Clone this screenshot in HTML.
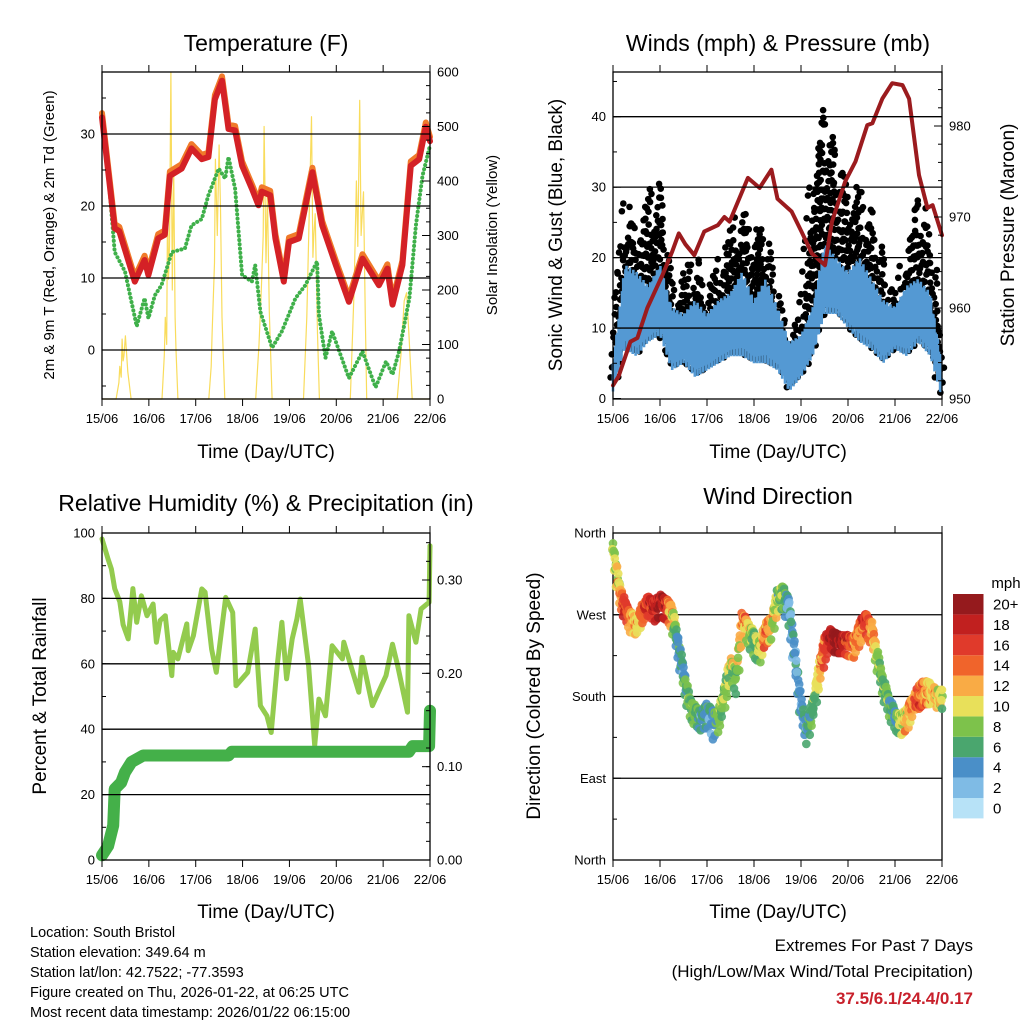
<!DOCTYPE html>
<html><head><meta charset="utf-8"><style>
html,body{margin:0;padding:0;background:#fff;}
svg{display:block;font-family:"Liberation Sans",sans-serif;}
</style></head><body>
<svg id="s" width="1024" height="1024" viewBox="0 0 1024 1024" xmlns="http://www.w3.org/2000/svg">
<rect width="1024" height="1024" fill="#fff"/>
<g id="texts">
<text x="266" y="51" font-size="23" text-anchor="middle">Temperature (F)</text>
<text x="778" y="51" font-size="23" text-anchor="middle">Winds (mph) &amp; Pressure (mb)</text>
<text x="266" y="511" font-size="23" text-anchor="middle">Relative Humidity (%) &amp; Precipitation (in)</text>
<text x="778" y="504" font-size="23" text-anchor="middle">Wind Direction</text>
<text x="266" y="458" font-size="19" text-anchor="middle">Time (Day/UTC)</text>
<text x="778" y="458" font-size="19" text-anchor="middle">Time (Day/UTC)</text>
<text x="266" y="918" font-size="19" text-anchor="middle">Time (Day/UTC)</text>
<text x="778" y="918" font-size="19" text-anchor="middle">Time (Day/UTC)</text>
<text transform="translate(54,235) rotate(-90)" font-size="15" text-anchor="middle">2m &amp; 9m T (Red, Orange) &amp; 2m Td (Green)</text>
<text transform="translate(497,235) rotate(-90)" font-size="15" text-anchor="middle">Solar Insolation (Yellow)</text>
<text transform="translate(562,235) rotate(-90)" font-size="19" text-anchor="middle">Sonic Wind &amp; Gust (Blue, Black)</text>
<text transform="translate(1014,235) rotate(-90)" font-size="19" text-anchor="middle">Station Pressure (Maroon)</text>
<text transform="translate(46,696) rotate(-90)" font-size="19" text-anchor="middle">Percent &amp; Total Rainfall</text>
<text transform="translate(540,696) rotate(-90)" font-size="19" text-anchor="middle">Direction (Colored By Speed)</text>
<g font-size="14.5">
<text x="30" y="937">Location: South Bristol</text>
<text x="30" y="957">Station elevation: 349.64 m</text>
<text x="30" y="977">Station lat/lon: 42.7522; -77.3593</text>
<text x="30" y="997">Figure created on Thu, 2026-01-22, at 06:25 UTC</text>
<text x="30" y="1017">Most recent data timestamp: 2026/01/22 06:15:00</text>
</g>
<g font-size="17" text-anchor="end">
<text x="973" y="951">Extremes For Past 7 Days</text>
<text x="973" y="977">(High/Low/Max Wind/Total Precipitation)</text>
<text x="973" y="1004" fill="#c8202b" font-weight="bold">37.5/6.1/24.4/0.17</text>
</g>
<text x="1006" y="588" font-size="15" text-anchor="middle">mph</text>
</g>
</svg>
<script>
// ---------- DATA ----------
const dayLabels=["15/06","16/06","17/06","18/06","19/06","20/06","21/06","22/06"];
// Temperature (F)
const tempDay=[0,.27,.37,.7,.91,.99,1.2,1.34,1.45,1.7,1.91,2.13,2.27,2.41,2.56,2.7,2.84,2.99,3.2,3.34,3.41,3.59,3.7,3.88,3.99,4.2,4.49,4.7,4.99,5.27,5.56,5.91,6.09,6.2,6.41,6.59,6.77,6.91,7.0];
const tempVal=[32.3,16.9,16.5,9.5,12.5,10.4,15.5,16,24.2,25.2,28,26.5,26.8,34.8,37.4,30.7,30.5,25.6,22.4,20.1,22,21.5,15.5,9.5,15,15.5,24.7,17.3,11.8,6.7,12.7,9,11.3,6.3,11.8,25.6,26.5,31,29];
const dewDay=[0,.13,.27,.49,.74,.91,.99,1.13,1.27,1.49,1.77,1.91,2.13,2.27,2.49,2.63,2.7,2.84,2.99,3.2,3.27,3.38,3.63,3.84,4.13,4.34,4.59,4.63,4.77,4.91,5.27,5.56,5.84,6.06,6.2,6.34,6.56,6.7,6.84,7.0];
const dewVal=[31.8,24.7,13.6,10.9,3.3,7.2,4.4,7.6,9,13.6,14.1,17.3,18.2,21.5,25.2,23.8,26.8,22.4,10.4,9.5,11.8,5.3,0.3,2.6,7.2,9,12.3,4.9,-1.1,2.6,-3.9,-0.2,-5.2,-1.6,-3.4,-0.2,7.2,17.3,24.2,28.4];
const solarDay=[0,.3,.36,.38,.41,.43,.45,.47,.5,.55,.62,1.28,1.33,1.35,1.38,1.4,1.42,1.44,1.47,1.5,1.53,1.56,1.58,1.62,2.28,2.33,2.35,2.4,2.42,2.46,2.5,2.53,2.56,2.62,3.28,3.35,3.4,3.44,3.46,3.5,3.53,3.57,3.63,4.3,4.37,4.42,4.47,4.5,4.52,4.55,4.6,4.64,5.3,5.38,5.43,5.46,5.5,5.53,5.58,5.62,5.65,6.3,6.38,6.45,6.5,6.55,6.62,7];
const solarVal=[0,0,30,60,40,110,70,80,116,50,0,0,80,150,100,380,220,280,600,200,420,150,90,0,0,60,120,250,440,300,466,350,150,0,0,100,200,300,500,250,380,160,0,0,150,330,518,260,300,340,120,0,0,200,400,280,548,300,380,150,0,0,80,180,195,120,0,0];
// Winds (mph) & pressure (mb)
const windDay=[0,.25,.5,.75,1,1.25,1.5,1.75,2,2.25,2.5,2.75,3,3.25,3.5,3.75,4,4.25,4.5,4.75,5,5.25,5.5,5.75,6,6.25,6.5,6.75,7];
const windLo=[1,7,6,8,9,4,5,3,4,5,6,6,5,5,4,1,3,6,12,12,10,8,7,5,7,6,8,6,0];
const windHi=[5,19,18,16,19,13,12,14,12,14,15,18,14,17,13,8,9,13,22,20,18,20,17,14,13,16,17,15,5];
const gustHi=[10,28,24,29,32,16,18,20,16,20,24,27,24,24,16,9,12,33,42,35,30,30,27,20,14,22,29,24,8];
const presDay=[0,.12,.37,.52,.73,1.05,1.26,1.4,1.54,1.73,1.94,2.23,2.37,2.48,2.87,3.12,3.37,3.5,3.8,4.01,4.23,4.51,4.66,4.94,5.16,5.41,5.52,5.73,5.94,6.16,6.3,6.51,6.69,6.8,7.0];
const presVal=[951.5,952.5,956.3,956.7,960,963.6,966.2,968.2,967,965.8,968.4,969.1,970,969.5,974.3,973.2,975.2,972,970.6,968.4,966,964.7,969.5,973.9,976.1,980.1,980.3,983,984.7,984.5,983,974.6,971,971.3,968];
// Relative humidity (%) & precipitation (in)
const rhDay=[0,.13,.2,.27,.38,.45,.56,.66,.74,.84,.96,1.09,1.16,1.24,1.35,1.49,1.52,1.62,1.81,1.84,1.95,2.13,2.2,2.34,2.44,2.64,2.79,2.86,3.11,3.27,3.38,3.52,3.61,3.74,3.84,3.94,4.06,4.16,4.23,4.41,4.54,4.63,4.77,4.91,5.13,5.16,5.48,5.55,5.77,6.06,6.2,6.31,6.52,6.55,6.7,6.81,6.98,7.0];
const rhVal=[98.2,92,89,83,79,72,67.6,83,72.7,80.8,74.7,78.3,66.6,73.2,74.7,56.4,63.5,61.5,72.2,64,68.6,82.9,81.9,64.5,57.4,80.3,75.7,53.3,57.4,70.6,47.2,44.1,39,59.4,72.7,55.4,67.6,73.7,79.8,59.4,35,49.2,44.1,65.5,61.5,66.6,51.3,62,47.2,56.4,66,59.4,45.2,74.7,66.6,76.8,78.8,96.1];
const precipDay=[0,.13,.24,.27,.41,.49,.63,.88,2.7,2.77,6.55,6.63,6.98,7.0];
const precipVal=[0.005,0.015,0.037,0.076,0.083,0.094,0.105,0.112,0.112,0.116,0.116,0.122,0.122,0.16];
// Wind direction (deg) & speed (mph), 3-hourly, two obs per slot
const dirA=[350,310,285,275,265,280,290,286,295,290,285,250,215,180,170,165,175,170,165,195,225,215,275,265,255,240,265,270,300,305,290,235,180,150,175,215,250,255,250,245,250,245,265,275,265,230,200,180,165,160,170,180,175,180,180,185,175];
const dirB=[335,290,272,258,255,268,278,270,275,272,262,230,195,165,155,150,155,140,150,175,205,190,255,245,230,225,245,250,280,285,260,210,160,135,160,195,225,240,235,235,232,230,245,255,245,215,185,165,150,145,150,165,185,190,188,175,180];
const spdA=[8,8,16,14,12,16,18,16,18,16,14,6,4,6,10,4,6,6,10,6,14,8,16,14,8,10,12,14,6,8,4,4,4,4,7,12,14,20,22,20,20,12,16,18,14,10,8,6,6,8,10,14,16,14,12,10,8];
const spdB=[10,12,18,12,10,14,15,18,20,18,8,4,6,8,6,6,4,3,8,8,8,6,12,8,6,8,16,8,10,7,3,4,4,6,6,10,16,18,20,18,14,14,12,16,12,8,6,8,4,10,12,12,14,12,10,12,10];
const speedBins=["0","2","4","6","8","10","12","14","16","18","20+"];
const speedColors=["#b7e2f7","#7fbbe5","#4a8fc8","#4aa66e","#7dc24b","#e8e05a","#f9ab45","#f0642b","#e03a2b","#c1201f","#951a1d"];

// ---------- HELPERS ----------
const NS="http://www.w3.org/2000/svg";
const svg=document.getElementById("s");
function mk(tag,attrs,parent){const e=document.createElementNS(NS,tag);for(const k in attrs)e.setAttribute(k,attrs[k]);(parent||svg).appendChild(e);return e;}
function panel(x0,x1,y0,y1){return {x0,x1,y0,y1,x:d=>x0+d*(x1-x0)/7};}
function lin(v0,p0,v1,p1){return v=>p0+(v-v0)*(p1-p0)/(v1-v0);}
function pathD(xs,ys){return xs.map((x,i)=>(i?"L":"M")+x.toFixed(1)+","+ys[i].toFixed(1)).join("");}
function interp(xa,ya,x){if(x<=xa[0])return ya[0];for(let i=1;i<xa.length;i++){if(x<=xa[i]){const f=(x-xa[i-1])/(xa[i]-xa[i-1]);return ya[i-1]+f*(ya[i]-ya[i-1]);}}return ya[ya.length-1];}

const P1=panel(102,430,72,399), P2=panel(613,942,72,399), P3=panel(102,430,533,860), P4=panel(613,942,533,860);
const y1L=lin(0,350,30,134), y1R=lin(0,399,600,72);
const y2L=lin(0,398.5,40,116.7), y2R=lin(950,399,980,126);
const y3L=lin(0,860,100,533), y3R=lin(0,860,0.3,580);
const y4=lin(0,860,360,533);

function frame(P,name,grid,yl,leftTicks,leftLabels,minorL,rightTicks,rightLabels,yr,minorR){
  const g=mk("g",{});
  
  
  grid.forEach(v=>{const gl=mk("line",{x1:P.x0,x2:P.x1,y1:yl(v),y2:yl(v),stroke:"#000","stroke-width":1.3},g);
    
    });
  for(let d=0;d<=7;d++){const x=P.x(d);
    mk("line",{x1:x,x2:x,y1:P.y0,y2:P.y0-7,stroke:"#000"},g);
    mk("line",{x1:x,x2:x,y1:P.y1,y2:P.y1+7,stroke:"#000"},g);
    const t=mk("text",{x:x,y:P.y1+24,"font-size":13,"text-anchor":"middle"},g);t.textContent=dayLabels[d];
    
    }
  minorL.forEach(v=>mk("line",{x1:P.x0,x2:P.x0+4,y1:yl(v),y2:yl(v),stroke:"#000"},g));
  leftTicks.forEach((v,i)=>{mk("line",{x1:P.x0,x2:P.x0+8,y1:yl(v),y2:yl(v),stroke:"#000"},g);
    const t=mk("text",{x:P.x0-7,y:yl(v)+4.5,"font-size":13,"text-anchor":"end"},g);t.textContent=leftLabels[i];
    
    });
  if(yr){minorR.forEach(v=>mk("line",{x1:P.x1,x2:P.x1-4,y1:yr(v),y2:yr(v),stroke:"#000"},g));
    rightTicks.forEach((v,i)=>{mk("line",{x1:P.x1,x2:P.x1-8,y1:yr(v),y2:yr(v),stroke:"#000"},g);
    const t=mk("text",{x:P.x1+7,y:yr(v)+4.5,"font-size":13},g);t.textContent=rightLabels[i];
    
    });}
  mk("rect",{x:P.x0,y:P.y0,width:P.x1-P.x0,height:P.y1-P.y0,fill:"none",stroke:"#000","stroke-width":1.3},g);
}
function series(P,xs,ys,color,w,name,extra){
  const p=mk("path",Object.assign({d:pathD(xs.map(P.x),ys),fill:"none",stroke:color,"stroke-width":w,"stroke-linejoin":"round","stroke-linecap":"round"},extra||{}));
  
  
  return p;
}

// ---------- PANEL 1: temperature ----------
series(P1,solarDay,solarVal.map(y1R),"#f9dc5c",1.2,"solar-insolation-line");
series(P1,dewDay,dewVal.map(y1L),"#3fb04a",4,"dewpoint-line",{"stroke-dasharray":"0.1 4.2"});
series(P1,tempDay,tempVal.map(v=>y1L(v+0.6)),"#f07a2a",6,"temp-9m-line");
series(P1,tempDay,tempVal.map(y1L),"#d42126",6,"temp-2m-line");
const minorT=[];for(let v=-5;v<=38;v+=5)minorT.push(v);
const minorS=[];for(let v=0;v<=600;v+=25)minorS.push(v);
frame(P1,"temperature",[0,10,20,30],y1L,[0,10,20,30],["0","10","20","30"],minorT,[0,100,200,300,400,500,600],["0","100","200","300","400","500","600"],y1R,minorS);

// ---------- PANEL 2: winds ----------
{
  const gg=mk("g",{fill:"#000"});
  
  
  let k=0;
  for(let d=0;d<=7.0001;d+=0.03){
    const lo=interp(windDay,windLo,d)+2, hi=interp(windDay,windHi,d), gt=interp(windDay,gustHi,d);
    const top=gt, n=Math.max(1,Math.round((top-lo)/2.2));
    for(let j=0;j<=n;j++){
      const v=lo+(top-lo)*j/n - ((k+j)%3)*0.7;
      const dx=((k*7+j*3)%5-2)*1.2;
      const rr=(j>n*0.75 && (k+j)%2)?0:3.3;
      if(rr)mk("circle",{cx:P2.x(d)+dx,cy:y2L(v),r:rr},gg);
    }
    k++;
  }
  // blue sonic wind as dense vertical spikes
  let dpath="";k=0;
  for(let d=0;d<=7.0001;d+=0.012){
    const lo=interp(windDay,windLo,d), hi=interp(windDay,windHi,d);
    const f=[1,0.55,0.85,0.3,0.95,0.6][k%6], g2=[0,0.35,0.1,0.5,0.2][k%5];
    const x=P2.x(d).toFixed(1);
    dpath+="M"+x+","+y2L(lo+(hi-lo)*g2).toFixed(1)+"L"+x+","+y2L(lo+(hi-lo)*f).toFixed(1);
    k++;
  }
  const bl=mk("path",{d:dpath,stroke:"#5499d3","stroke-width":2.6,fill:"none"});
  
  
  series(P2,presDay,presVal.map(y2R),"#9b1b1e",4,"pressure-line");
  const minorW=[];for(let v=0;v<=46;v+=5)minorW.push(v);
  const minorP=[];for(let v=950;v<=985;v+=2)minorP.push(v);
  frame(P2,"winds",[10,20,30,40],y2L,[0,10,20,30,40],["0","10","20","30","40"],minorW,[950,960,970,980],["950","960","970","980"],y2R,minorP);
}

// ---------- PANEL 3: humidity ----------
series(P3,rhDay,rhVal.map(y3L),"#93cb4e",5,"relative-humidity-line");
series(P3,precipDay,precipVal.map(y3R),"#44b049",12,"precipitation-line");
const minorH=[];for(let v=0;v<=100;v+=10)minorH.push(v);
const minorR=[];for(let v=0;v<=0.34;v+=0.02)minorR.push(v);
frame(P3,"humidity",[20,40,60,80],y3L,[0,20,40,60,80,100],["0","20","40","60","80","100"],minorH,[0,0.1,0.2,0.3],["0.00","0.10","0.20","0.30"],y3R,minorR);

// ---------- PANEL 4: wind direction ----------
function spdColor(s){const i=Math.max(0,Math.min(10,Math.round(s/2)));return speedColors[i];}
frame(P4,"direction",[90,180,270],y4,[0,90,180,270,360],["North","East","South","West","North"],[45,135,225,315],null,null,null,null);
{
  const offs=[-14,6,-4,12,-9,2,15,-12];
  let c2=0;
  for(let i=0;i<dirA.length;i++){
    const j=Math.min(i+1,dirA.length-1);
    const n=(i===dirA.length-1)?1:5;
    for(let k=0;k<n;k++){
      const f=k/5;
      for(let m=0;m<4;m++){
        const w=m/3;
        const da=dirA[i]+(dirA[j]-dirA[i])*f, db=dirB[i]+(dirB[j]-dirB[i])*f;
        const sa=spdA[i]+(spdA[j]-spdA[i])*f, sb=spdB[i]+(spdB[j]-spdB[i])*f;
        const dir=da+(db-da)*w+offs[c2%8]*0.6, sp=sa+(sb-sa)*w+((c2%5)-2)*0.8;
        const d=(i+f)/8+((c2%3)-1)*0.012;
        c2++;
        const c=mk("circle",{cx:P4.x(d),cy:y4(dir),r:4.3,fill:spdColor(sp),"fill-opacity":0.9});
        
        
      }
    }
  }
}
// colorbar
speedBins.forEach((lab,i)=>{
  const top=594+(10-i)*20.4;
  const r=mk("rect",{x:953,y:top,width:30.5,height:20.4,fill:speedColors[i]});
  
  
  const t=mk("text",{x:993,y:top+15.5,"font-size":15},svg);t.textContent=lab;
  
  
});
</script>
</body></html>
